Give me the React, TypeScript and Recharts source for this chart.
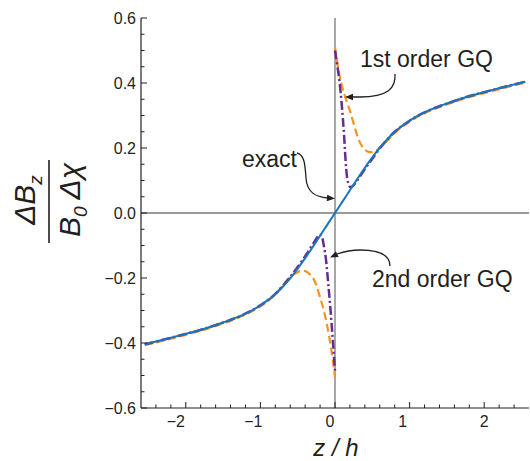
import { LineChart, Line, XAxis, YAxis, ReferenceLine } from "recharts";

// exact field profile
const exactZ = [-2.55, -2.25, -2, -1.75, -1.5, -1.25, -1.1, -1, -0.9, -0.8, -0.7, -0.6, -0.5, -0.4, -0.3, -0.2, -0.1, 0, 0.1, 0.2, 0.3, 0.4, 0.5, 0.6, 0.7, 0.8, 0.9, 1, 1.1, 1.25, 1.5, 1.75, 2, 2.25, 2.55];
const exactVal = [-0.404, -0.387, -0.372, -0.356, -0.337, -0.315, -0.298, -0.284, -0.268, -0.25, -0.227, -0.201, -0.171, -0.139, -0.105, -0.07, -0.035, 0, 0.035, 0.07, 0.105, 0.139, 0.171, 0.201, 0.227, 0.25, 0.268, 0.284, 0.298, 0.315, 0.337, 0.356, 0.372, 0.387, 0.404];

// 1st order GQ, split at z = 0
const firstNegZ = [-2.55, -2.25, -2, -1.75, -1.5, -1.25, -1.1, -1, -0.9, -0.8, -0.7, -0.6, -0.5, -0.45, -0.4, -0.35, -0.3, -0.25, -0.2, -0.15, -0.1, -0.05, 0];
const firstNegVal = [-0.407, -0.39, -0.375, -0.359, -0.34, -0.318, -0.301, -0.287, -0.271, -0.251, -0.223, -0.197, -0.182, -0.178, -0.179, -0.186, -0.198, -0.222, -0.26, -0.3, -0.352, -0.42, -0.505];
const firstPosZ = [0, 0.05, 0.1, 0.15, 0.2, 0.25, 0.3, 0.35, 0.4, 0.45, 0.5, 0.55, 0.6, 0.7, 0.8, 0.9, 1, 1.1, 1.25, 1.5, 1.75, 2, 2.25, 2.55];
const firstPosVal = [0.51, 0.435, 0.385, 0.348, 0.315, 0.275, 0.237, 0.21, 0.195, 0.188, 0.187, 0.192, 0.2, 0.222, 0.246, 0.265, 0.281, 0.295, 0.312, 0.334, 0.353, 0.369, 0.384, 0.401];

// 2nd order GQ, split at z = 0
const secondNegZ = [-2.55, -2.25, -2, -1.75, -1.5, -1.25, -1.1, -1, -0.9, -0.8, -0.7, -0.6, -0.5, -0.4, -0.3, -0.25, -0.21, -0.18, -0.15, -0.12, -0.09, -0.06, -0.03, 0];
const secondNegVal = [-0.404, -0.387, -0.372, -0.356, -0.337, -0.315, -0.298, -0.284, -0.268, -0.249, -0.224, -0.197, -0.166, -0.133, -0.097, -0.079, -0.066, -0.07, -0.1, -0.145, -0.219, -0.298, -0.39, -0.485];
const secondPosZ = [0, 0.03, 0.06, 0.09, 0.12, 0.15, 0.18, 0.21, 0.25, 0.3, 0.4, 0.5, 0.6, 0.7, 0.8, 0.9, 1, 1.1, 1.25, 1.5, 1.75, 2, 2.25, 2.55];
const secondPosVal = [0.5, 0.455, 0.405, 0.335, 0.245, 0.135, 0.09, 0.079, 0.086, 0.101, 0.135, 0.167, 0.199, 0.226, 0.25, 0.268, 0.284, 0.298, 0.315, 0.337, 0.356, 0.372, 0.387, 0.404];

const xTicks = [-2.4, -2.2, -2, -1.8, -1.6, -1.4, -1.2, -1, -0.8, -0.6, -0.4, -0.2, 0, 0.2, 0.4, 0.6, 0.8, 1, 1.2, 1.4, 1.6, 1.8, 2, 2.2, 2.4];
const yTicks = [-0.6, -0.55, -0.5, -0.45, -0.4, -0.35, -0.3, -0.25, -0.2, -0.15, -0.1, -0.05, 0, 0.05, 0.1, 0.15, 0.2, 0.25, 0.3, 0.35, 0.4, 0.45, 0.5, 0.55, 0.6];

const INK = "#231f20";
const FONT = "'Liberation Sans', Arial, sans-serif";
const W = 530;
const H = 461;

type Pt = { z: number; v: number | null };

const toPoints = (z: number[], v: number[]): Pt[] => z.map((zz, i) => ({ z: zz, v: v[i] }));
// a null point breaks the line at the discontinuity
const branches = (nz: number[], nv: number[], pz: number[], pv: number[]): Pt[] => [
  ...toPoints(nz, nv),
  { z: 0, v: null },
  ...toPoints(pz, pv),
];

const exactData = toPoints(exactZ, exactVal);
const firstData = branches(firstNegZ, firstNegVal, firstPosZ, firstPosVal);
const secondData = branches(secondNegZ, secondNegVal, secondPosZ, secondPosVal);

const isMajorX = (v: number) => Math.abs(v - Math.round(v)) < 1e-6;
const isMajorY = (v: number) => Math.abs(v * 5 - Math.round(v * 5)) < 1e-6;
const minus = (s: string) => s.replace("-", "\u2212");

// small nudges so the x labels sit where the printed figure has them
const xLabelDx: Record<string, number> = { "-2": -10, "-1": -7, "0": -5, "1": -7, "2": 0 };

function BottomTick(props: any) {
  const { x, y, payload } = props;
  const v = payload.value as number;
  const major = isMajorX(v);
  const key = String(Math.round(v));
  return (
    <g>
      <line x1={x} x2={x} y1={y} y2={y - (major ? 6 : 3.5)} stroke={INK} strokeWidth={1} />
      {major && (
        <text x={x + (xLabelDx[key] ?? 0)} y={y + 19} textAnchor="middle" fontSize={16} fontFamily={FONT} fill={INK}>
          {minus(String(Math.round(v)))}
        </text>
      )}
    </g>
  );
}

function TopTick(props: any) {
  const { x, y, payload } = props;
  const major = isMajorX(payload.value);
  return <line x1={x} x2={x} y1={y} y2={y + (major ? 6 : 3.5)} stroke={INK} strokeWidth={1} />;
}

function LeftTick(props: any) {
  const { x, y, payload } = props;
  const v = payload.value as number;
  const major = isMajorY(v);
  return (
    <g>
      <line x1={x} x2={x + (major ? 6 : 3.5)} y1={y} y2={y} stroke={INK} strokeWidth={1} />
      {major && (
        <text x={x - 5} y={y + 5.5} textAnchor="end" fontSize={16} fontFamily={FONT} fill={INK}>
          {minus(v.toFixed(1))}
        </text>
      )}
    </g>
  );
}

function RightTick(props: any) {
  const { x, y, payload } = props;
  const major = isMajorY(payload.value);
  return <line x1={x} x2={x - (major ? 6 : 3.5)} y1={y} y2={y} stroke={INK} strokeWidth={1} />;
}

// curved leader with a filled head at (tx, ty)
function Arrow({ d, tx, ty, angle }: { d: string; tx: number; ty: number; angle: number }) {
  const a = (angle * Math.PI) / 180;
  const len = 8;
  const half = 3.2;
  const bx = tx - len * Math.cos(a);
  const by = ty - len * Math.sin(a);
  const px = -Math.sin(a) * half;
  const py = Math.cos(a) * half;
  return (
    <g>
      <path d={d} fill="none" stroke={INK} strokeWidth={1.3} />
      <polygon points={`${tx},${ty} ${bx + px},${by + py} ${bx - px},${by - py}`} fill={INK} />
    </g>
  );
}

function Annotations() {
  return (
    <svg width={W} height={H} style={{ position: "absolute", left: 0, top: 0, pointerEvents: "none" }}>
      <g fontFamily={FONT} fill={INK}>
        <text x={360} y={67} fontSize={23}>1st order GQ</text>
        <text x={297} y={167} fontSize={23} textAnchor="end">exact</text>
        <text x={372} y={287} fontSize={23}>2nd order GQ</text>
      </g>
      <Arrow d="M395,74 C396,88 388,97 360,97 L352,97" tx={345} ty={97} angle={180} />
      <Arrow d="M297,153 C305,155 305,166 306,178 C307,192 315,197 328,198" tx={335} ty={198.5} angle={4} />
      <Arrow d="M390,266 C390,254 378,250 360,250 C350,250 343,252 337,254" tx={330} ty={257.5} angle={155} />

      {/* axis titles */}
      <text x={336} y={456} textAnchor="middle" fontSize={24} fontStyle="italic" fontFamily={FONT} fill={INK}>
        z / h
      </text>
      <g transform="translate(0,202) rotate(-90)" fontFamily={FONT} fill={INK} fontStyle="italic">
        <text x={2} y={35} textAnchor="middle" fontSize={30}>
          ΔB<tspan fontSize={19} dy={7}>z</tspan>
        </text>
        <line x1={-41} x2={42} y1={49} y2={49} stroke={INK} strokeWidth={1.6} />
        <text x={2} y={80} textAnchor="middle" fontSize={30}>
          B<tspan fontSize={19} dy={7}>0</tspan>
          <tspan dy={-7} dx={7}>Δχ</tspan>
        </text>
      </g>
    </svg>
  );
}

export default function App() {
  return (
    <div style={{ position: "absolute", left: 0, top: 0, width: W, height: H, background: "#fff" }}>
      <LineChart width={W} height={H} margin={{ top: 18, right: 1, bottom: 23, left: 101 }}>
        <XAxis
          xAxisId="b"
          dataKey="z"
          type="number"
          domain={[-2.6, 2.6]}
          allowDataOverflow
          ticks={xTicks}
          interval={0}
          height={30}
          tickSize={0}
          tickMargin={0}
          tickLine={false}
          axisLine={{ stroke: INK, strokeWidth: 1.2 }}
          tick={<BottomTick />}
        />
        <XAxis
          xAxisId="t"
          orientation="top"
          type="number"
          domain={[-2.6, 2.6]}
          allowDataOverflow
          ticks={xTicks}
          interval={0}
          height={0}
          tickSize={0}
          tickMargin={0}
          tickLine={false}
          axisLine={{ stroke: INK, strokeWidth: 1.2 }}
          tick={<TopTick />}
        />
        <YAxis
          yAxisId="l"
          type="number"
          domain={[-0.6, 0.6]}
          allowDataOverflow
          ticks={yTicks}
          interval={0}
          width={40}
          tickSize={0}
          tickMargin={0}
          tickLine={false}
          axisLine={{ stroke: INK, strokeWidth: 1.2 }}
          tick={<LeftTick />}
        />
        <YAxis
          yAxisId="r"
          orientation="right"
          type="number"
          domain={[-0.6, 0.6]}
          allowDataOverflow
          ticks={yTicks}
          interval={0}
          width={0}
          tickSize={0}
          tickMargin={0}
          tickLine={false}
          axisLine={{ stroke: INK, strokeWidth: 1.2 }}
          tick={<RightTick />}
        />
        <ReferenceLine xAxisId="b" yAxisId="l" x={0} stroke="#77787b" strokeWidth={1.3} />
        <ReferenceLine xAxisId="b" yAxisId="l" y={0} stroke="#77787b" strokeWidth={1.3} />
        <Line
          xAxisId="b"
          yAxisId="l"
          data={firstData}
          dataKey="v"
          type="monotone"
          stroke="#f7941e"
          strokeWidth={2.2}
          strokeDasharray="8 4"
          dot={false}
          connectNulls={false}
          isAnimationActive={false}
        />
        <Line
          xAxisId="b"
          yAxisId="l"
          data={secondData}
          dataKey="v"
          type="monotone"
          stroke="#662d91"
          strokeWidth={2.5}
          strokeDasharray="9 3 2 3"
          dot={false}
          connectNulls={false}
          isAnimationActive={false}
        />
        <Line
          xAxisId="b"
          yAxisId="l"
          data={exactData}
          dataKey="v"
          type="monotone"
          stroke="#1b75bb"
          strokeWidth={2}
          dot={false}
          isAnimationActive={false}
        />
      </LineChart>
      <Annotations />
    </div>
  );
}
